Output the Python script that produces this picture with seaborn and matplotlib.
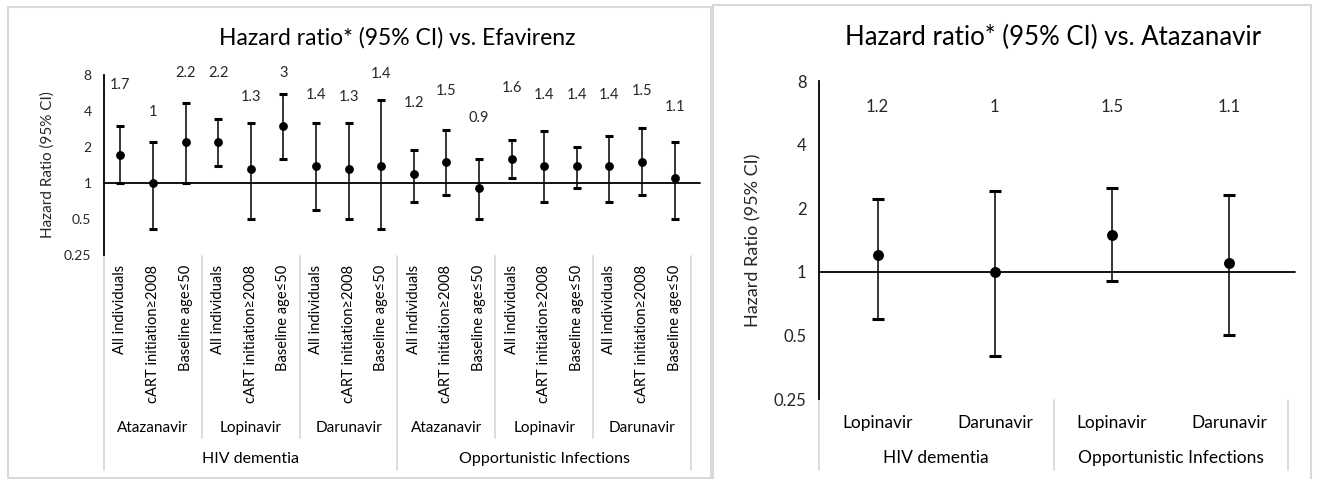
import seaborn as sns
import pandas as pd
import matplotlib.pyplot as plt
from matplotlib.patches import Rectangle

# Valores
outcomes = ["HIV dementia", "Opportunistic Infections"]
drugs_left = ["Atazanavir", "Lopinavir", "Darunavir"]
subgroups = ["All individuals", "cART initiation\u22652008", "Baseline age\u226450"]

# vs. Efavirenz (18 pontos: desfecho x droga x subgrupo)
hr_left = [1.7, 1.0, 2.2, 2.2, 1.3, 3.0, 1.4, 1.3, 1.4,
           1.2, 1.5, 0.9, 1.6, 1.4, 1.4, 1.4, 1.5, 1.1]
lo_left = [1.0, 0.41, 1.0, 1.4, 0.5, 1.6, 0.6, 0.5, 0.41,
           0.7, 0.8, 0.5, 1.1, 0.7, 0.9, 0.7, 0.8, 0.5]
hi_left = [3.0, 2.2, 4.7, 3.45, 3.2, 5.5, 3.2, 3.2, 4.9,
           1.9, 2.75, 1.6, 2.3, 2.7, 2.0, 2.45, 2.9, 2.2]

# vs. Atazanavir
drugs_right = ["Lopinavir", "Darunavir"]
hr_right = [1.2, 1.0, 1.5, 1.1]
lo_right = [0.6, 0.4, 0.9, 0.5]
hi_right = [2.2, 2.4, 2.5, 2.3]

yticks = [0.25, 0.5, 1, 2, 4, 8]
yticklabels = ["0.25", "0.5", "1", "2", "4", "8"]

sns.set_theme(style="white")
plt.rcParams["font.family"] = ["Lato", "DejaVu Sans"]

W, H = 1318, 479
fig = plt.figure(figsize=(W / 100, H / 100), dpi=100)
GRID = "#d9d9d9"


def px_axes(x0, x1, y0, y1):
    return fig.add_axes([x0 / W, 1 - y1 / H, (x1 - x0) / W, (y1 - y0) / H])


def fy(ax_y0, ax_y1, py):
    # posição em pixel (de cima) -> fração do eixo
    return (ax_y1 - py) / (ax_y1 - ax_y0)


def base_axes(ax, n, tick_fs):
    ax.set_yscale("log", base=2)
    ax.set_ylim(0.25, 8)
    ax.set_xlim(-0.5, n - 0.5)
    ax.set_yticks(yticks)
    ax.set_yticklabels(yticklabels)
    ax.minorticks_off()
    ax.set_xticks([])
    ax.tick_params(axis="y", length=0, labelsize=tick_fs, pad=9, labelcolor="#262626")
    for s in ["top", "right", "bottom"]:
        ax.spines[s].set_visible(False)
    ax.spines["left"].set_color("black")
    ax.spines["left"].set_linewidth(1.3)
    ax.axhline(1, xmin=0, xmax=1.015, color="black", lw=1.3, clip_on=False, zorder=1)
    ax.patch.set_alpha(0)


# painéis (bordas cinza)
fig.patches.append(Rectangle((8 / W, 1 - 478 / H), 703 / W, 471 / H, transform=fig.transFigure,
                             fill=False, ec=GRID, lw=1.5))
fig.patches.append(Rectangle((713 / W, 1 - 481 / H), 598 / W, 476 / H, transform=fig.transFigure,
                             fill=False, ec=GRID, lw=1.5))

# ---------------- gráfico da esquerda ----------------
rows = []
for i, (h, l, u) in enumerate(zip(hr_left, lo_left, hi_left)):
    rows.append({"x": i, "outcome": outcomes[i // 9], "drug": drugs_left[(i // 3) % 3],
                 "subgroup": subgroups[i % 3], "hr": h, "lo": l, "hi": u})
left = pd.DataFrame(rows)

LY0, LY1 = 75, 255
axl = px_axes(104, 691, LY0, LY1)
base_axes(axl, len(left), 10)
axl.errorbar(left["x"], left["hr"], yerr=[left["hr"] - left["lo"], left["hi"] - left["hr"]],
             fmt="none", ecolor="black", elinewidth=1.1, capsize=3.2, capthick=2.2, zorder=2)
sns.scatterplot(data=left, x="x", y="hr", ax=axl, color="black", s=40, edgecolor="black",
                linewidth=0, zorder=3, legend=False)
axl.set_xlabel("")
axl.set_ylabel("Hazard Ratio (95% CI)", fontsize=11, labelpad=7)
for _, r in left.iterrows():
    ylab = min(max(r["hr"] * 3.9, r["hi"] * 1.65), 8.3)
    axl.text(r["x"], ylab, f"{r['hr']:g}", ha="center", va="center",
             fontsize=10.5, color="#262626")
axl.text(0.5, fy(LY0, LY1, 38), "Hazard ratio* (95% CI) vs. Efavirenz", transform=axl.transAxes,
         ha="center", va="center", fontsize=16.5, color="black")

tl = axl.get_xaxis_transform()
for _, r in left.iterrows():
    axl.text(r["x"], fy(LY0, LY1, 265), r["subgroup"], transform=tl, rotation=90,
             ha="center", va="top", fontsize=10.5, color="black")
for g in range(6):
    axl.text(g * 3 + 1, fy(LY0, LY1, 428), drugs_left[g % 3], transform=tl,
             ha="center", va="center", fontsize=11, color="black")
for k in range(2):
    axl.text(k * 9 + 4, fy(LY0, LY1, 459), outcomes[k], transform=tl,
             ha="center", va="center", fontsize=11.5, color="black")
for b in range(7):
    xb = b * 3 - 0.5
    end = 470 if b % 3 == 0 else 438
    axl.plot([xb, xb], [fy(LY0, LY1, 256), fy(LY0, LY1, end)], transform=tl,
             color=GRID, lw=1.3, clip_on=False)

# ---------------- gráfico da direita ----------------
rows = []
for i, (h, l, u) in enumerate(zip(hr_right, lo_right, hi_right)):
    rows.append({"x": i, "outcome": outcomes[i // 2], "drug": drugs_right[i % 2],
                 "hr": h, "lo": l, "hi": u})
right = pd.DataFrame(rows)

RY0, RY1 = 81, 399
axr = px_axes(819, 1288, RY0, RY1)
base_axes(axr, len(right), 12)
axr.errorbar(right["x"], right["hr"], yerr=[right["hr"] - right["lo"], right["hi"] - right["hr"]],
             fmt="none", ecolor="black", elinewidth=1.1, capsize=4, capthick=2.2, zorder=2)
sns.scatterplot(data=right, x="x", y="hr", ax=axr, color="black", s=62, edgecolor="black",
                linewidth=0, zorder=3, legend=False)
axr.set_xlabel("")
axr.set_ylabel("Hazard Ratio (95% CI)", fontsize=13, labelpad=9)
for _, r in right.iterrows():
    axr.text(r["x"], 6.0, f"{r['hr']:g}", ha="center", va="center", fontsize=12, color="#262626")
axr.text(0.5, fy(RY0, RY1, 37), "Hazard ratio* (95% CI) vs. Atazanavir", transform=axr.transAxes,
         ha="center", va="center", fontsize=18.5, color="black")

tr = axr.get_xaxis_transform()
for _, r in right.iterrows():
    axr.text(r["x"], fy(RY0, RY1, 423), r["drug"], transform=tr,
             ha="center", va="center", fontsize=12.5, color="black")
for k in range(2):
    axr.text(k * 2 + 0.5, fy(RY0, RY1, 458), outcomes[k], transform=tr,
             ha="center", va="center", fontsize=12.5, color="black")
for b in range(3):
    xb = b * 2 - 0.5
    axr.plot([xb, xb], [fy(RY0, RY1, 400), fy(RY0, RY1, 470)], transform=tr,
             color=GRID, lw=1.3, clip_on=False)

fig.savefig("out.png", dpi=100)
